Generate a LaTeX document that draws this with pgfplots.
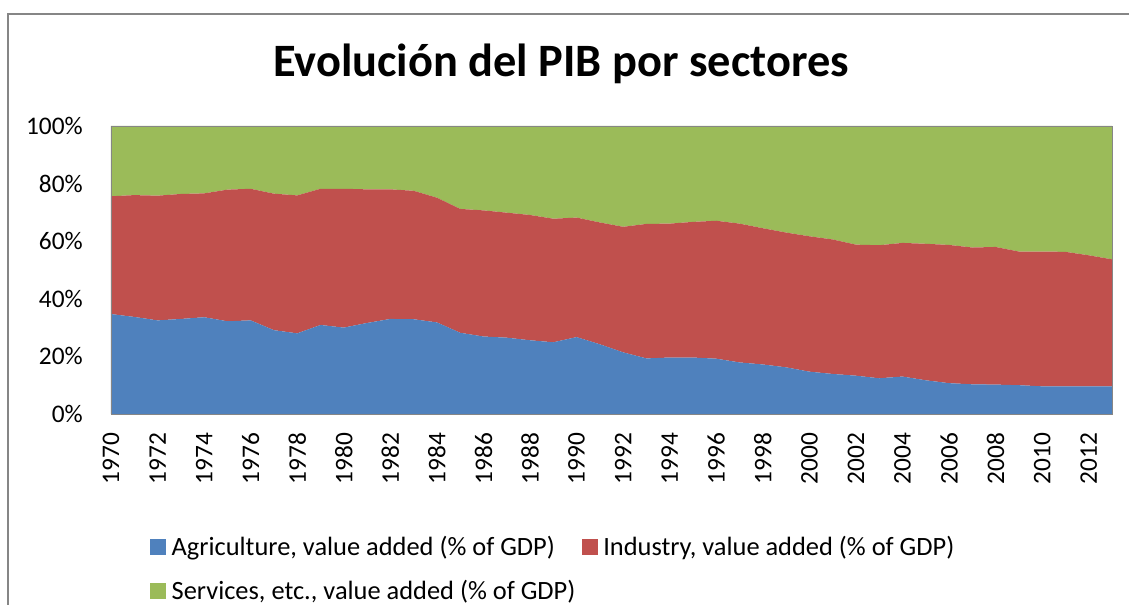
\documentclass[border=0pt]{standalone}
\usepackage{fontspec}
\setmainfont{Carlito}
\usepackage{pgfplots}
\usepackage{pgfplotstable}
\pgfplotsset{compat=1.18}

\definecolor{agri}{HTML}{4F81BD}
\definecolor{indu}{HTML}{C0504D}
\definecolor{serv}{HTML}{9BBB59}
\definecolor{frame}{HTML}{868686}

% year, agriculture, industry, services (% of GDP)
\pgfplotstableread{
year agr ind ser
1970 34.7 40.9 24.4
1971 33.7 42.3 24.0
1972 32.5 43.3 24.2
1973 33.0 43.4 23.6
1974 33.6 43.0 23.4
1975 32.2 45.7 22.1
1976 32.5 45.7 21.8
1977 29.1 47.4 23.5
1978 28.0 47.9 24.1
1979 30.9 47.3 21.8
1980 30.0 48.2 21.8
1981 31.6 46.4 22.0
1982 33.0 45.0 22.0
1983 32.9 44.6 22.5
1984 31.8 43.3 24.9
1985 28.2 43.0 28.8
1986 26.9 43.8 29.3
1987 26.5 43.4 30.1
1988 25.6 43.5 30.9
1989 24.9 42.9 32.2
1990 26.7 41.5 31.8
1991 24.2 42.3 33.5
1992 21.4 43.6 35.0
1993 19.3 46.7 34.0
1994 19.6 46.5 33.9
1995 19.6 47.1 33.3
1996 19.2 47.9 32.9
1997 17.9 48.2 33.9
1998 17.2 47.3 35.5
1999 16.2 46.8 37.0
2000 14.7 47.0 38.3
2001 13.9 46.7 39.4
2002 13.3 45.5 41.2
2003 12.4 46.2 41.4
2004 13.0 46.4 40.6
2005 11.7 47.4 40.9
2006 10.7 48.0 41.3
2007 10.3 47.5 42.2
2008 10.2 47.8 42.0
2009 10.0 46.4 43.6
2010  9.6 46.8 43.6
2011  9.6 46.7 43.7
2012  9.6 45.5 44.9
2013  9.6 44.1 46.3
}\pibdata

\begin{document}
\begin{tikzpicture}[x=0.75pt,y=0.75pt]
\path[use as bounding box] (0,0) rectangle (1129,605);
\draw[frame, line width=1.3pt] (8,-5) -- (8,591) -- (1135,591);
\node[font=\fontsize{34.8}{40}\selectfont\bfseries] at (561,541) {Evolución del PIB por sectores};

\begin{axis}[
  at={(83.25pt,143.25pt)}, anchor=south west,
  scale only axis, width=750.75pt, height=216pt,
  xmin=1970, xmax=2013, ymin=0, ymax=100,
  stack plots=y,
  axis line style={frame},
  major tick length=0pt,
  xtick={1970,1972,...,2012},
  ytick={0,20,40,60,80,100},
  yticklabels={0\%,20\%,40\%,60\%,80\%,100\%},
  /pgf/number format/1000 sep={},
  /pgf/number format/assume math mode=true,
  tick label style={font=\fontsize{19}{23}\selectfont, inner sep=0pt},
  yticklabel style={anchor=east, xshift=-21pt},
  xticklabel style={rotate=90, anchor=east, xshift=-14pt},
  legend columns=2,
  legend cell align=left,
  legend style={draw=none, fill=none, at={(axis description cs:0.035,-0.415)},
    anchor=north west, font=\fontsize{19.8}{24}\selectfont,
    nodes={inner sep=0pt}, row sep=17pt,
    /tikz/every odd column/.append style={column sep=4pt},
    /tikz/every even column/.append style={column sep=5pt}},
  legend image code/.code={\fill[#1] (0pt,-6pt) rectangle (12pt,6pt);},
  axis on top,
]
\addplot[fill=agri, draw=none] table[x=year, y=agr] {\pibdata} \closedcycle;
\addlegendentry{Agriculture, value added (\% of GDP)}
\addplot[fill=indu, draw=none] table[x=year, y=ind] {\pibdata} \closedcycle;
\addlegendentry{Industry, value added (\% of GDP)}
\addplot[fill=serv, draw=none] table[x=year, y=ser] {\pibdata} \closedcycle;
\addlegendentry{Services, etc., value added (\% of GDP)}
\end{axis}
\end{tikzpicture}
\end{document}
